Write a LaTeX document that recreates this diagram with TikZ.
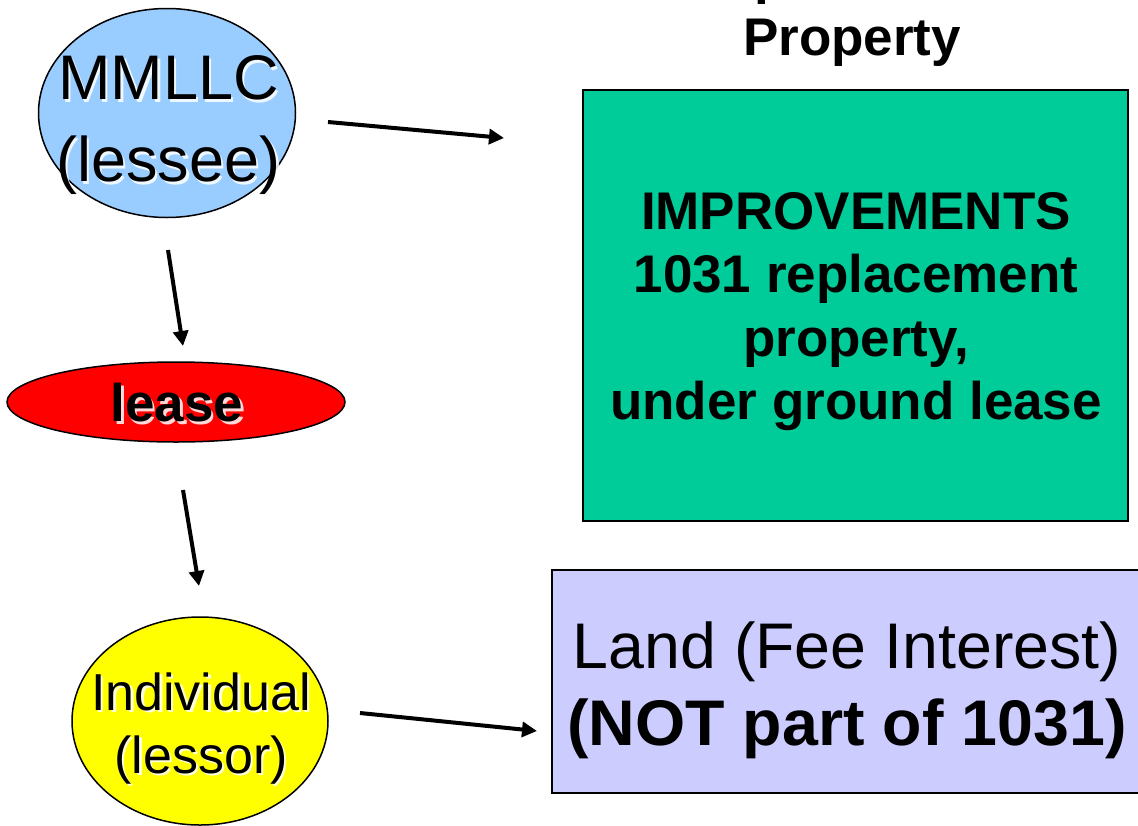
\documentclass[tikz,border=0pt]{standalone}
\usepackage{fontspec}
\setmainfont{Liberation Sans}
\usetikzlibrary{shapes.geometric,arrows.meta}

\definecolor{lesseeblue}{HTML}{99CCFF}
\definecolor{leasered}{HTML}{FF0000}
\definecolor{lessoryellow}{HTML}{FFFF00}
\definecolor{improvgreen}{HTML}{00CC99}
\definecolor{landlilac}{HTML}{CCCCFF}

\begin{document}
\begin{tikzpicture}[x=1pt,y=-1pt,
  party/.style={ellipse,draw=black,line width=1.5pt,inner sep=0pt},
  parcel/.style={rectangle,draw=black,line width=2.5pt,inner sep=0pt},
  bigtext/.style={align=center,inner sep=0pt,font=\fontsize{63}{82}\selectfont},
  midtext/.style={align=center,inner sep=0pt,font=\fontsize{52}{63}\selectfont},
  boldtext/.style={align=center,inner sep=0pt,font=\bfseries\fontsize{53}{63.5}\selectfont},
  glow/.style={text=white,opacity=0.85},
  flow/.style={line width=4pt,-{Triangle[length=15pt,width=15pt]}}
]
\useasboundingbox (0,0) rectangle (1138,825);

% heading over the improvements box
\node[boldtext,anchor=base] (headtop) at (852,-7) {Replacement};
\node[boldtext,anchor=base] (headbot) at (852,55) {Property};

% lessee
\node[party,fill=lesseeblue,minimum width=257pt,minimum height=209pt] (lessee) at (167,113) {};
\node[bigtext,glow] (lesseeglow) at (171,128) {MMLLC\\(lessee)};
\node[bigtext] (lesseetxt) at (168.5,125) {MMLLC\\(lessee)};

% lease
\node[party,fill=leasered,minimum width=338pt,minimum height=80pt] (lease) at (176,402) {};
\node[boldtext,glow] (leaseglow) at (179.5,405.5) {lease};
\node[boldtext] (leasetxt) at (177,403) {lease};

% lessor
\node[party,fill=lessoryellow,minimum width=256pt,minimum height=208pt] (lessor) at (200,721) {};
\node[midtext,glow] (lessorglow) at (203.5,731) {Individual\\(lessor)};
\node[midtext] (lessortxt) at (201,728.5) {Individual\\(lessor)};

% improvements
\node[parcel,fill=improvgreen,minimum width=545pt,minimum height=431pt] (improv) at (855.5,305.5) {};
\node[boldtext] (improvtxt) at (856,311.5) {IMPROVEMENTS\\1031 replacement\\property,\\under ground lease};

% land
\node[parcel,fill=landlilac,minimum width=588pt,minimum height=223pt] (land) at (846,681.5) {};
\node[bigtext,font=\fontsize{64.5}{77}\selectfont] (landtxt) at (847,690) {Land (Fee Interest)\\\textbf{(NOT part of 1031)}};

% connectors
\coordinate (a1s) at (328,122); \coordinate (a1e) at (504,138);
\coordinate (a2s) at (168,250); \coordinate (a2e) at (183,346);
\coordinate (a3s) at (183,490); \coordinate (a3e) at (199,586);
\coordinate (a4s) at (360,713); \coordinate (a4e) at (537,731);
\draw[flow] (a1s) -- (a1e);
\draw[flow] (a2s) -- (a2e);
\draw[flow] (a3s) -- (a3e);
\draw[flow] (a4s) -- (a4e);
\end{tikzpicture}
\end{document}
